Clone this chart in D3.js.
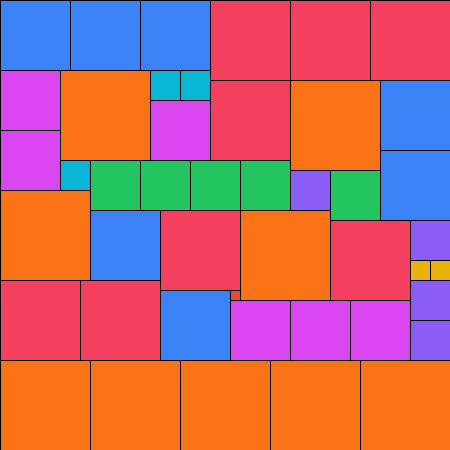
<!DOCTYPE html>
<html>
<head>
<meta charset="utf-8">
<script src="https://cdn.jsdelivr.net/npm/d3@7"></script>
<style>
  html, body { margin: 0; padding: 0; background: #fff; }
  svg { display: block; }
</style>
</head>
<body>
<script>
// squares in the order they get packed (side length, data units)
const sides = [
  70, 70, 70, 80, 80, 80,
  60, 90, 30, 30,
  80, 90, 70,
  60, 60, 70,
  30, 50, 50, 50, 50,
  40, 50,
  90, 70, 80, 90,
  80, 40, 20, 20,
  80, 80, 40,
  70, 10, 60, 60, 60, 40,
  90, 90, 90, 90, 90
];
const groups = [
  "blue", "blue", "blue", "red", "red", "red",
  "magenta", "orange", "cyan", "cyan",
  "red", "orange", "blue",
  "magenta", "magenta", "blue",
  "cyan", "green", "green", "green", "green",
  "purple", "green",
  "orange", "blue", "red", "orange",
  "red", "purple", "yellow", "yellow",
  "red", "red", "purple",
  "blue", "darkred", "magenta", "magenta", "magenta", "purple",
  "orange", "orange", "orange", "orange", "orange"
];
const groupNames = ["blue", "red", "orange", "magenta", "cyan", "green", "purple", "yellow", "darkred"];
const groupColors = ["#3b82f6", "#f43f5e", "#f97316", "#d946ef", "#06b6d4", "#22c55e", "#8b5cf6", "#eab308", "#ef4444"];

const width = 450, height = 450;
const total = 450; // width of the board in data units

var x = d3.scaleLinear().domain([0, total]).range([0, width]);
var y = d3.scaleLinear().domain([0, total]).range([0, height]);
var color = d3.scaleOrdinal().domain(groupNames).range(groupColors);

// skyline packing: each square goes to the lowest segment, leftmost first
function pack(sides) {
  var segs = [{x0: 0, x1: total, h: 0}];
  var out = [];
  sides.forEach(function(s, i) {
    var best = segs[0];
    segs.forEach(function(g) { if (g.h < best.h) best = g; });
    out.push({x: best.x0, y: best.h, s: s, group: groups[i]});
    var idx = segs.indexOf(best);
    var placed = {x0: best.x0, x1: best.x0 + s, h: best.h + s};
    var rest = [];
    if (best.x0 + s < best.x1) rest.push({x0: best.x0 + s, x1: best.x1, h: best.h});
    segs.splice.apply(segs, [idx, 1, placed].concat(rest));
    // merge neighbours of equal height
    var merged = [];
    segs.forEach(function(g) {
      var last = merged[merged.length - 1];
      if (last && last.h === g.h && last.x1 === g.x0) last.x1 = g.x1;
      else merged.push({x0: g.x0, x1: g.x1, h: g.h});
    });
    segs = merged;
  });
  return out;
}

var tiles = pack(sides);

var svg = d3.select("body")
  .append("svg")
  .attr("width", width)
  .attr("height", height)
  .attr("shape-rendering", "crispEdges");

svg.selectAll("rect")
  .data(tiles)
  .enter()
  .append("rect")
  .attr("x", d => x(d.x))
  .attr("y", d => y(d.y))
  .attr("width", d => x(d.s) - x(0))
  .attr("height", d => y(d.s) - y(0))
  .attr("fill", d => color(d.group))
  .attr("stroke", "#000")
  .attr("stroke-width", 1);
</script>
</body>
</html>
